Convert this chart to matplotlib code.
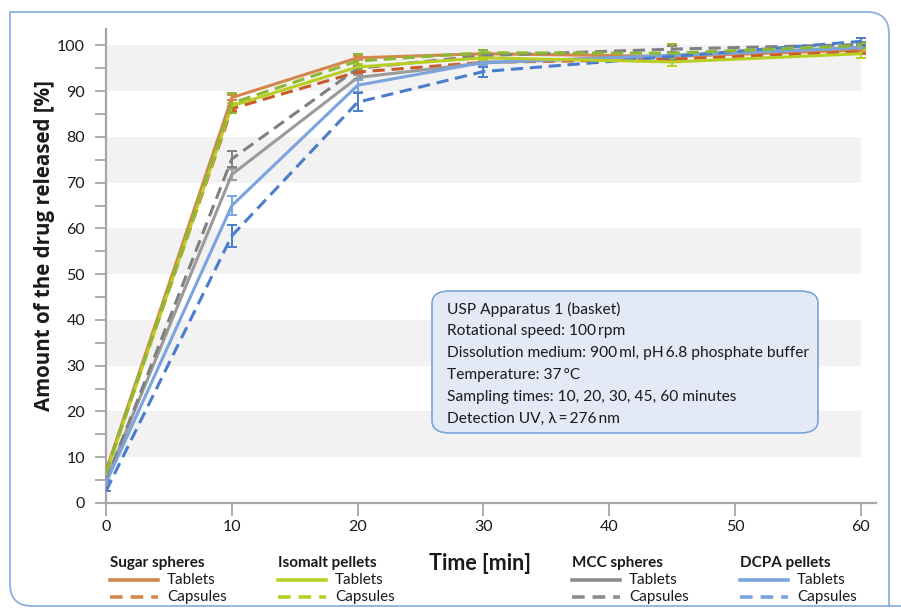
import matplotlib
matplotlib.use("Agg")
import matplotlib.pyplot as plt
from matplotlib.path import Path
from matplotlib.patches import PathPatch, FancyBboxPatch
from matplotlib.lines import Line2D
import numpy as np

plt.rcParams['font.family'] = ['Lato', 'DejaVu Sans']

time = [0, 10, 20, 30, 45, 60]

sugar_tab = [7.0, 88.6, 97.3, 98.2, 97.6, 99.0]
sugar_tab_err = [0, 0.6, 0.5, 0.8, 0.5, 0.5]
sugar_cap = [6.8, 86.2, 94.2, 96.3, 97.0, 98.6]
sugar_cap_err = [0, 0.6, 0.5, 0.5, 0.5, 0.5]
iso_tab = [6.5, 86.8, 95.3, 97.3, 96.4, 98.2]
iso_tab_err = [0, 0.6, 0.6, 0.5, 0.8, 0.9]
iso_cap = [6.6, 87.4, 96.6, 98.4, 98.3, 100.0]
iso_cap_err = [0, 2.2, 1.6, 0.6, 2.0, 0.5]
mcc_tab = [5.0, 71.8, 93.0, 96.2, 97.8, 99.6]
mcc_tab_err = [0, 1.3, 0.6, 0.5, 0.5, 0.5]
mcc_cap = [4.8, 75.2, 95.0, 97.8, 99.2, 100.2]
mcc_cap_err = [0, 1.8, 0.6, 0.5, 0.6, 0.5]
dcpa_tab = [4.4, 65.0, 91.3, 96.3, 97.8, 99.5]
dcpa_tab_err = [0, 2.0, 1.4, 0.5, 0.5, 0.5]
dcpa_cap = [2.6, 58.4, 87.6, 94.3, 97.6, 100.9]
dcpa_cap_err = [0, 2.4, 2.0, 1.1, 0.5, 0.8]

y_ticks = [0, 10, 20, 30, 40, 50, 60, 70, 80, 90, 100]
x_ticks = [0, 10, 20, 30, 40, 50, 60]

info_lines = [
    "USP Apparatus 1 (basket)",
    "Rotational speed: 100\u2009rpm",
    "Dissolution medium: 900\u2009ml, pH\u20096.8 phosphate buffer",
    "Temperature: 37\u2009\u00b0C",
    "Sampling times: 10, 20, 30, 45, 60 minutes",
    "Detection UV, \u03bb\u2009=\u2009276\u2009nm",
]

W, H = 901, 614
fig = plt.figure(figsize=(W / 100, H / 100), dpi=100)

# outer border
x0, y0, x1, y1 = 10 / W, 1 - 12 / H, 889 / W, 1 - 606 / H
rx, ry = 22 / W, 22 / H
border = Path([(x1, y1 + 0.0), (x1, y0 - ry), (x1, y0), (x1 - rx, y0),
               (x0, y0), (x0, y1 + ry), (x0, y1), (x0 + rx, y1), (x1 + 0.05, y1)],
              [Path.MOVETO, Path.LINETO, Path.CURVE3, Path.CURVE3,
               Path.LINETO, Path.LINETO, Path.CURVE3, Path.CURVE3, Path.LINETO])
fig.patches.append(PathPatch(border, transform=fig.transFigure, fill=False,
                             edgecolor='#8FB0E0', lw=1.3))

ax = fig.add_axes([106 / W, 1 - 503 / H, (876 - 106) / W, (503 - 29) / H])
ax.set_xlim(0, 61.2)
ax.set_ylim(0, 103.6)

for b in range(10, 100, 20):
    ax.fill_between([0, 60], b, b + 10, color='#F2F2F2', lw=0, zorder=0)

spine_c = '#A6A6A6'
for s in ['top', 'right']:
    ax.spines[s].set_visible(False)
for s in ['left', 'bottom']:
    ax.spines[s].set_color(spine_c)
    ax.spines[s].set_linewidth(1.6)

ax.set_xticks(x_ticks)
ax.set_yticks(y_ticks)
ax.set_yticks(np.arange(5, 100, 10), minor=True)
ax.tick_params(axis='both', which='both', color=spine_c, width=1.3, direction='out',
               labelsize=11.5, labelcolor='#1a1a1a')
ax.tick_params(axis='y', which='both', length=8, pad=7)
ax.tick_params(axis='x', length=9, pad=3)

series = [
    (sugar_tab, sugar_tab_err, '#D4874C', '-'),
    (sugar_cap, sugar_cap_err, '#CB5A2A', '--'),
    (mcc_tab, mcc_tab_err, '#9A9A9A', '-'),
    (mcc_cap, mcc_cap_err, '#808080', '--'),
    (dcpa_tab, dcpa_tab_err, '#7BA4DE', '-'),
    (dcpa_cap, dcpa_cap_err, '#4A7DCB', '--'),
    (iso_tab, iso_tab_err, '#B8CE22', '-'),
    (iso_cap, iso_cap_err, '#8DB833', '--'),
]
for vals, err, c, ls in series:
    ax.errorbar(time, vals, yerr=err, color=c, ls=ls, lw=2.2, capsize=3.5,
                elinewidth=1.4, capthick=1.4, dashes=(4, 2.2) if ls == '--' else (None, None),
                zorder=3)

ax.set_ylabel('Amount of the drug released [%]', fontsize=14.8, fontweight='bold',
              color='#1a1a1a', family=['Open Sans', 'DejaVu Sans'], va='center')
ax.yaxis.set_label_coords((45 - 106) / 770, (503 - 246) / 474)
fig.text(480 / W, 1 - 563 / H, 'Time [min]', fontsize=15.5, fontweight='bold',
         ha='center', va='center', color='#1a1a1a')

# info box
bx0, by0, bx1, by1 = 432 / W, 1 - 433 / H, 818 / W, 1 - 291 / H
box = FancyBboxPatch((bx0, by0), bx1 - bx0, by1 - by0,
                     boxstyle='round,pad=0,rounding_size=0.02',
                     transform=fig.transFigure, facecolor='#E3EAF6',
                     edgecolor='#7BA4DE', lw=1.2, zorder=5)
fig.patches.append(box)
for i, line in enumerate(info_lines):
    fig.text(447 / W, 1 - (309 + 22 * i) / H, line, fontsize=11.2, va='center',
             ha='left', color='#1a1a1a', zorder=6)

# legend groups
groups = [
    ('Sugar spheres', 110, '#D4874C'),
    ('Isomalt pellets', 278, '#B8CE22'),
    ('MCC spheres', 572, '#8C8C8C'),
    ('DCPA pellets', 740, '#7BA4DE'),
]
for name, gx, c in groups:
    fig.text(gx / W, 1 - 563 / H, name, fontsize=11, fontweight='bold',
             va='center', ha='left', color='#1a1a1a')
    fig.add_artist(Line2D([gx / W, (gx + 48) / W], [1 - 580 / H] * 2, color=c, lw=2.6,
                          transform=fig.transFigure))
    fig.add_artist(Line2D([gx / W, (gx + 48) / W], [1 - 597 / H] * 2, color=c, lw=2.6,
                          ls='--', dashes=(3.5, 2.2), transform=fig.transFigure))
    fig.text((gx + 57) / W, 1 - 580 / H, 'Tablets', fontsize=11, va='center',
             ha='left', color='#1a1a1a')
    fig.text((gx + 57) / W, 1 - 597 / H, 'Capsules', fontsize=11, va='center',
             ha='left', color='#1a1a1a')

fig.savefig('out.png', dpi=100)
